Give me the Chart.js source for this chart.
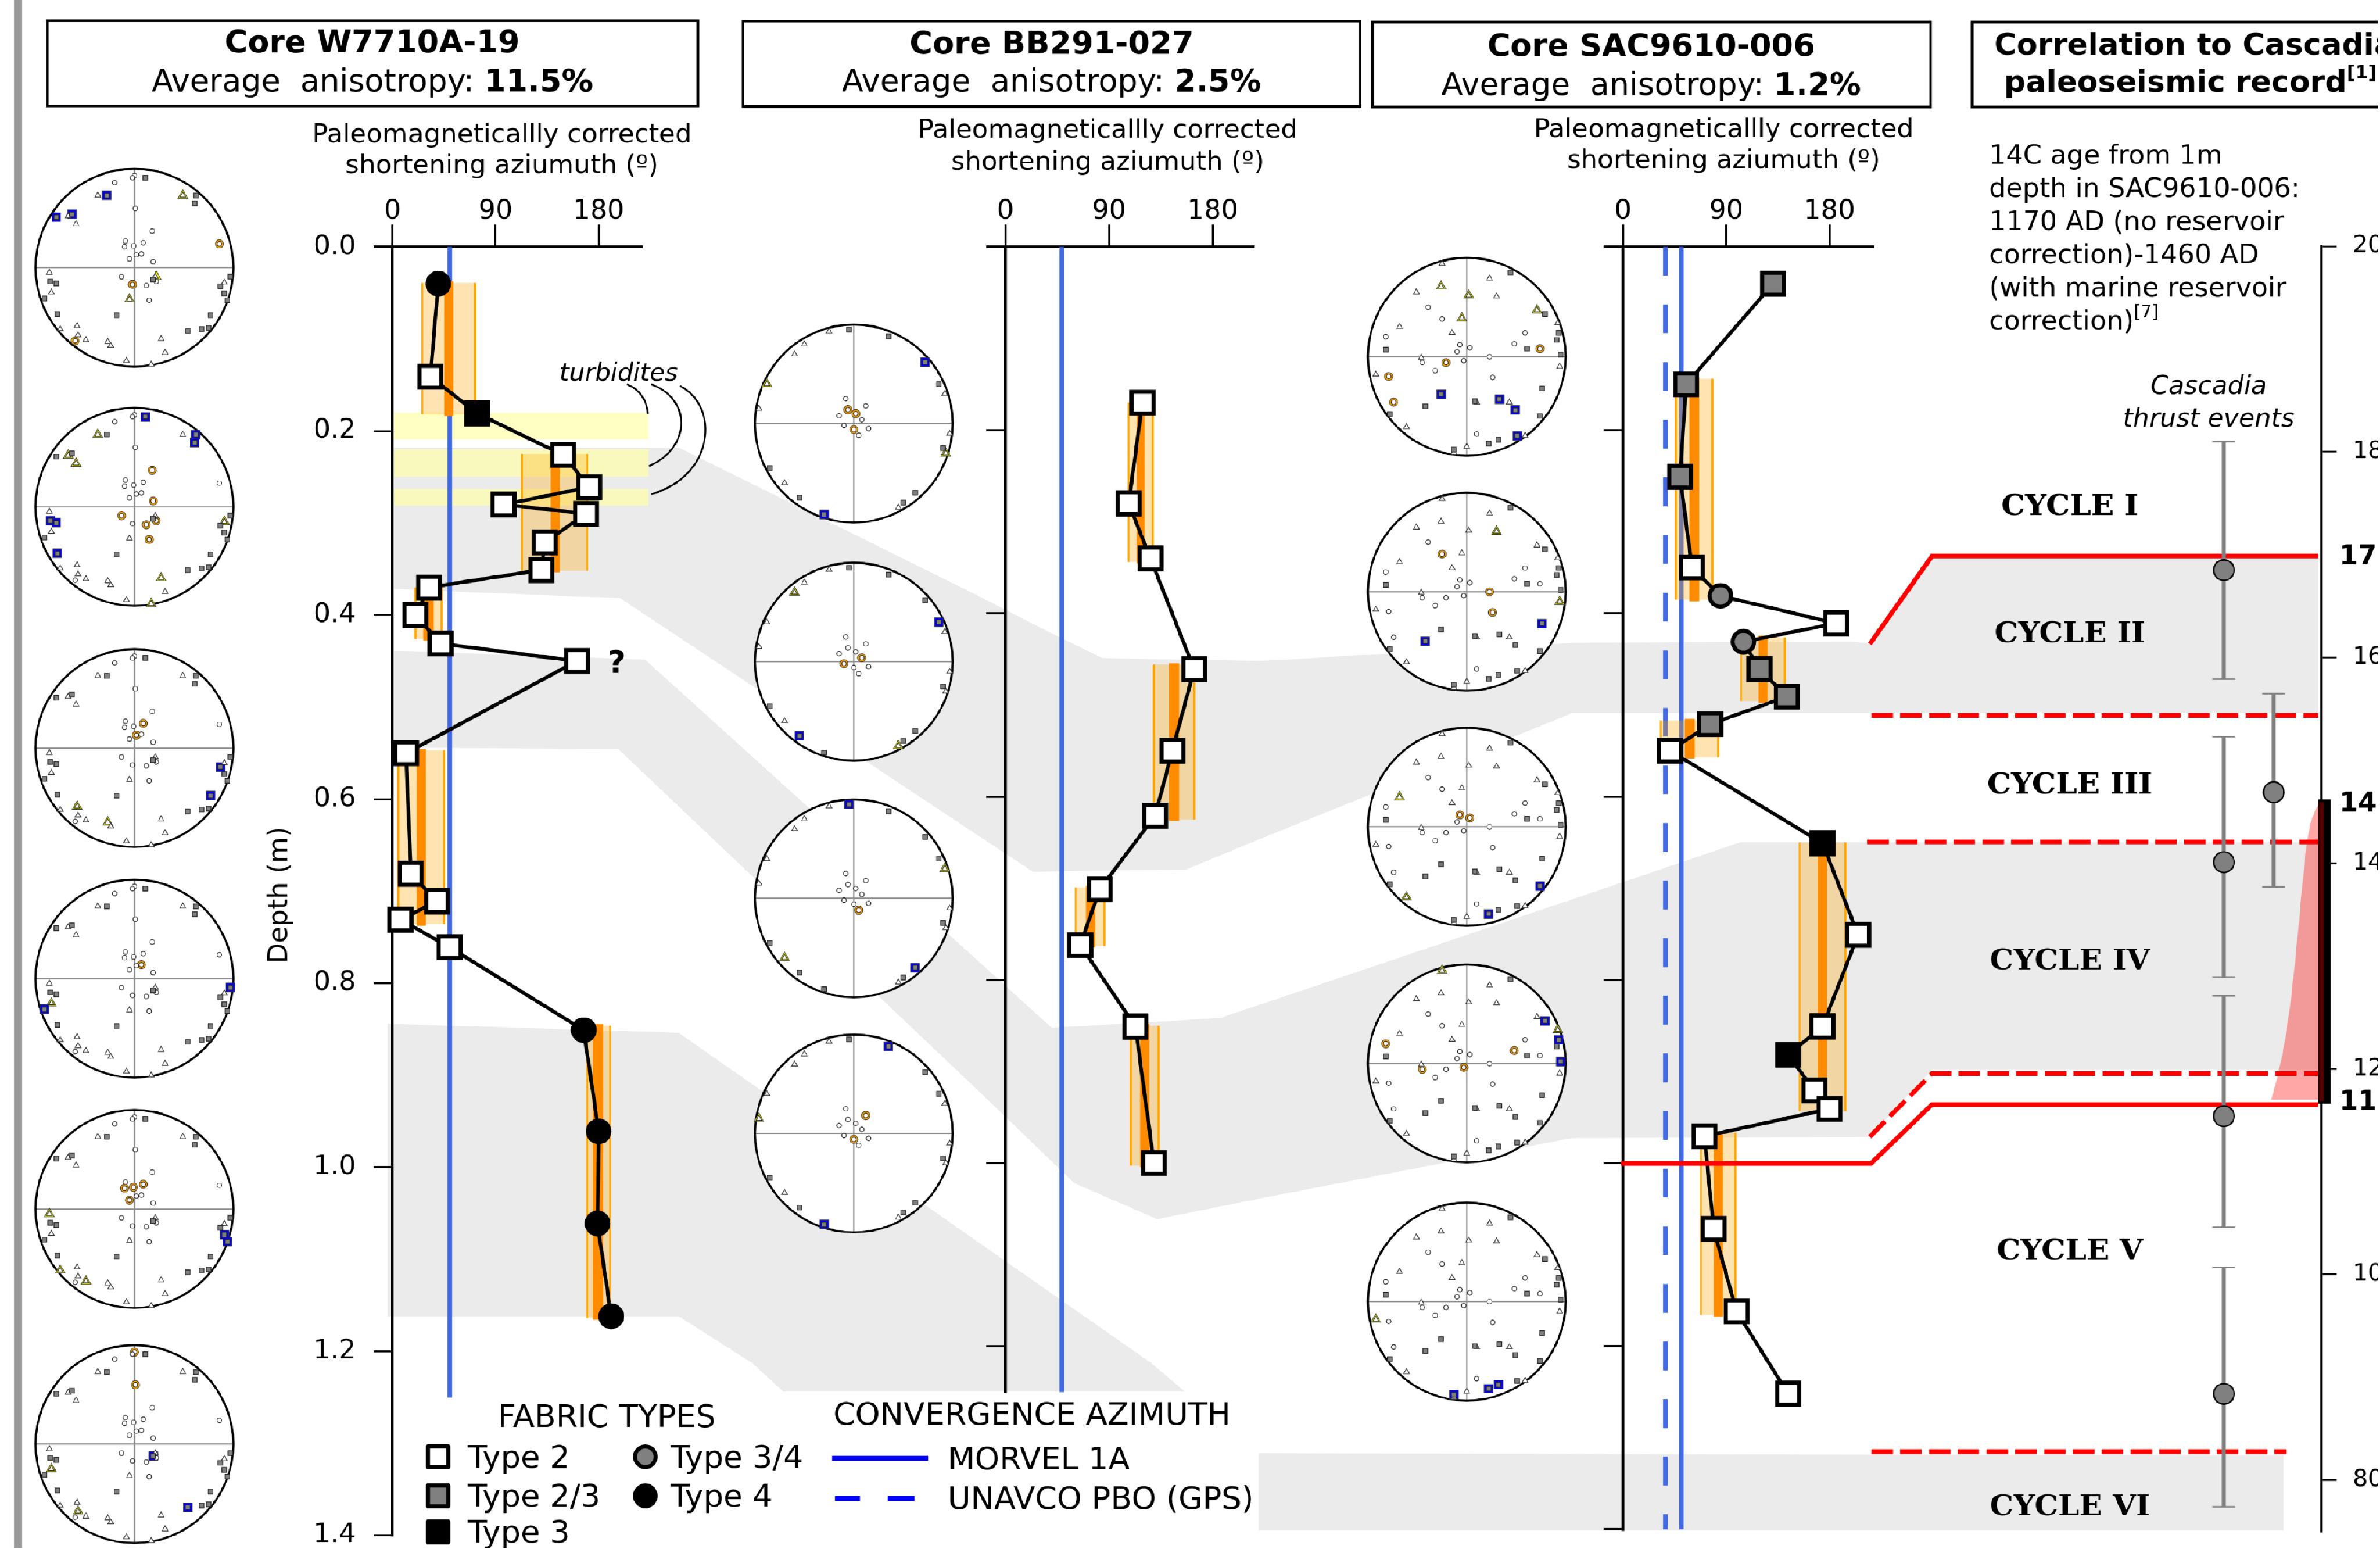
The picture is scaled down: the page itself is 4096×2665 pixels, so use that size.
<!DOCTYPE html>
<html>
<head>
<meta charset="utf-8">
<title>Shortening azimuths and Cascadia paleoseismic correlation</title>
<script src="https://cdn.jsdelivr.net/npm/chart.js@4.4.1/dist/chart.umd.min.js"></script>
<style>
  html, body { margin:0; padding:0; background:#fff; width:4096px; height:2665px; overflow:hidden; }
  #stage { position:absolute; left:0; top:0; width:4624px; height:3009px; background:#fff;
           transform:scale(0.885); transform-origin:0 0; overflow:hidden; }
  #stage canvas { position:absolute; }
</style>
</head>
<body>
<div id="stage"></div>
<script>
// ================= data =================
const azimuthTicks = [0, 90, 180];
const depthTicks = [0, 0.2, 0.4, 0.6, 0.8, 1.0, 1.2, 1.4];
const ageTicks = [800, 1000, 1200, 1400, 1600, 1800, 2000];

// Core W7710A-19 : depth (m), corrected shortening azimuth (deg), fabric type
const w77Depth   = [0.040, 0.141, 0.181, 0.226, 0.261, 0.280, 0.290, 0.321, 0.351, 0.370, 0.400, 0.431, 0.450, 0.550, 0.681, 0.711, 0.731, 0.761, 0.851, 0.961, 1.061, 1.162];
const w77Azimuth = [40, 33, 74, 149, 172, 97, 169, 133, 130, 32, 20, 42, 161, 12, 16, 39, 7, 50, 167, 180, 179, 191];
const w77Fabric  = ['4','2','3','2','2','2','2','2','2','2','2','2','2','2','2','2','2','2','4','4','4','4'];
// [top, bottom, range min, range max, mean min, mean max]
const w77Intervals = [
  [0.039, 0.182, 26, 72, 45, 53],
  [0.225, 0.352, 113, 170, 138, 146],
  [0.370, 0.426, 20, 43, 27, 36],
  [0.547, 0.736, 5, 45, 21, 29],
  [0.846, 1.164, 170, 190, 175, 184]
];
const w77Turbidites = [[0.180, 0.209], [0.220, 0.250], [0.263, 0.281]];
const w77Uncertain = 12;          // sample flagged with "?"
const w77Morvel = 50;

// Core BB291-027
const bbDepth   = [0.170, 0.280, 0.340, 0.461, 0.550, 0.621, 0.701, 0.762, 0.851, 1.000];
const bbAzimuth = [119, 107, 126, 164, 145, 130, 82, 65, 113, 129];
const bbFabric  = ['2','2','2','2','2','2','2','2','2','2'];
const bbIntervals = [
  [0.170, 0.344, 107, 128, 114, 121],
  [0.456, 0.625, 129, 164, 142, 151],
  [0.699, 0.763, 61, 86, 70, 78],
  [0.850, 1.003, 109, 133, 117, 125]
];
const bbMorvel = 49;

// Core SAC9610-006
const sacDepth   = [0.040, 0.150, 0.251, 0.350, 0.381, 0.411, 0.431, 0.461, 0.491, 0.521, 0.550, 0.651, 0.751, 0.851, 0.882, 0.921, 0.941, 0.971, 1.072, 1.162, 1.252];
const sacAzimuth = [131, 55, 50, 60, 85, 186, 105, 119, 143, 76, 41, 174, 205, 174, 144, 167, 180, 71, 79, 99, 144];
const sacFabric  = ['2/3','2/3','2/3','2','3/4','2','3/4','2/3','2/3','2/3','2','3','2','2','3','2','2','2','2','2','2'];
const sacIntervals = [
  [0.144, 0.385, 46, 78, 58, 66.5],
  [0.426, 0.496, 103, 141, 118, 126],
  [0.517, 0.557, 33, 83, 54, 62.5],
  [0.650, 0.944, 154, 194, 170, 178],
  [0.967, 1.166, 68, 98, 79, 87]
];
const sacMorvel = 51;
const sacUnavco = 37;

// Cascadia thrust events (years AD) and 14C age at 1 m in SAC9610-006
const thrustAge    = [1685, 1401, 1154, 884, 1469];
const thrustMin    = [1579, 1289, 1046, 774, 1377];
const thrustMax    = [1810, 1523, 1271, 1007, 1565];
const thrustColumn = [1, 1, 1, 1, 2];
const c14Range = [1170, 1460];
const c14DistAge     = [1460, 1449, 1429, 1389, 1334, 1273, 1226, 1186, 1170];
const c14DistDensity = [0.03, 0.16, 0.27, 0.36, 0.46, 0.59, 0.72, 0.90, 1.00];
const markedAges = [1700, 1460, 1170];
const cycleNames = ['CYCLE I', 'CYCLE II', 'CYCLE III', 'CYCLE IV', 'CYCLE V', 'CYCLE VI'];

// AMS principal axes on lower-hemisphere nets (unit-circle coordinates)
const w77K1 = [[0.11,0.91],[0.62,0.73],[0.61,0.65],[-0.85,-0.14],[-0.79,-0.16],[-0.91,-0.31],[-0.78,-0.47],[-0.18,-0.48],[0.97,-0.09],[0.87,-0.19],[0.91,-0.26],[0.94,-0.33],[0.77,-0.48],[0.54,-0.64],[0.68,-0.62],[0.75,-0.61],[0.19,-0.12],[-0.28,0.73],[-0.63,0.54],[-0.79,0.51]];
const w77K2 = [[-0.37,0.73],[-0.67,0.52],[-0.59,0.44],[-0.86,-0.05],[-0.84,-0.25],[-0.58,-0.59],[-0.75,-0.62],[-0.57,-0.68],[-0.49,-0.73],[-0.27,-0.75],[-0.24,-0.79],[-0.08,-0.94],[0.17,-0.98],[0.27,-0.72],[0.31,-0.86],[0.91,-0.15],[0.21,-0.09],[0.49,0.73],[-0.05,-0.32]];
const w77K3 = [[0.00,0.93],[-0.02,0.91],[-0.20,0.86],[0.01,0.60],[0.18,0.37],[-0.09,0.27],[-0.10,0.21],[-0.01,0.22],[0.09,0.25],[0.07,0.14],[0.02,0.13],[-0.05,0.09],[0.19,0.06],[-0.13,-0.09],[0.12,-0.18],[0.22,-0.14],[0.15,-0.33],[0.86,0.24],[-0.02,-0.17],[-0.60,-0.74]];
const w77Highlights = [
  {blue:[[-0.28,0.73],[-0.63,0.54],[-0.79,0.51]], yellow:[[0.49,0.73],[0.22,-0.09],[-0.05,-0.32]], orange:[[0.86,0.24],[-0.02,-0.17],[-0.60,-0.74]]},
  {blue:[[0.11,0.91],[0.62,0.73],[0.61,0.65],[-0.85,-0.14],[-0.79,-0.16],[-0.78,-0.47]], yellow:[[-0.37,0.73],[-0.67,0.52],[-0.59,0.44],[0.91,-0.15],[0.27,-0.72],[0.17,-0.98]], orange:[[0.18,0.37],[0.19,0.06],[-0.13,-0.09],[0.12,-0.18],[0.22,-0.14],[0.15,-0.33]]},
  {blue:[[0.77,-0.48],[0.87,-0.19]], yellow:[[-0.27,-0.75],[-0.58,-0.59]], orange:[[0.02,0.13],[0.09,0.25]]},
  {blue:[[-0.91,-0.31],[0.97,-0.09]], yellow:[[-0.84,-0.25]], orange:[[0.07,0.14]]},
  {blue:[[0.91,-0.26],[0.94,-0.33]], yellow:[[-0.86,-0.05],[-0.75,-0.62],[-0.49,-0.73]], orange:[[-0.10,0.21],[-0.01,0.22],[0.09,0.25],[-0.05,0.09]]},
  {blue:[[0.54,-0.64],[0.19,-0.12]], yellow:[[-0.84,-0.25],[-0.57,-0.68]], orange:[[0.00,0.93],[0.01,0.60]]}
];
const bbK1 = [[0.86,0.40],[0.72,0.62],[-0.30,-0.92],[0.62,-0.70],[-0.55,-0.75],[0.35,0.88],[0.90,-0.25],[-0.05,0.95],[0.50,-0.80],[-0.85,-0.45]];
const bbK2 = [[-0.88,0.40],[0.93,-0.30],[-0.50,0.80],[-0.96,0.15],[0.45,-0.85],[-0.70,-0.60],[0.92,0.30],[-0.25,0.93],[0.97,-0.10],[-0.60,0.70]];
const bbK3 = [[0.02,0.10],[-0.06,0.14],[0.08,0.04],[-0.10,-0.02],[0.05,-0.12],[0.12,0.18],[-0.08,0.25],[0.00,-0.06],[0.15,-0.05],[-0.15,0.08]];
const bbHighlights = [
  {blue:[[0.72,0.62],[-0.30,-0.92]], yellow:[[-0.88,0.40],[0.93,-0.30]], orange:[[-0.06,0.14],[0.02,0.10],[0.00,-0.06]]},
  {blue:[[0.86,0.40],[-0.55,-0.75]], yellow:[[-0.60,0.70],[0.45,-0.85]], orange:[[0.08,0.04],[-0.10,-0.02]]},
  {blue:[[-0.05,0.95],[0.62,-0.70]], yellow:[[-0.70,-0.60],[0.92,0.30]], orange:[[0.05,-0.12]]},
  {blue:[[0.35,0.88],[-0.30,-0.92]], yellow:[[-0.96,0.15]], orange:[[0.12,0.18],[0.00,-0.06]]}
];
const sacK1 = [[0.44,0.85],[0.79,0.43],[0.93,0.24],[0.91,0.17],[-0.82,0.07],[0.61,0.08],[0.95,0.02],[0.76,-0.32],[0.08,-0.45],[-0.42,-0.50],[-0.78,-0.58],[0.74,-0.60],[0.32,-0.84],[0.22,-0.88],[-0.13,-0.94],[-0.26,-0.38],[0.33,-0.43],[0.49,-0.54],[0.51,-0.80]];
const sacK2 = [[-0.25,0.94],[0.23,0.79],[-0.51,0.65],[0.30,0.61],[-0.68,0.30],[-0.15,0.24],[0.92,0.34],[-0.46,-0.01],[0.94,-0.10],[-0.92,-0.18],[0.10,-0.46],[0.43,-0.46],[-0.61,-0.71],[0.00,-0.91],[0.59,-0.80],[-0.13,-0.97],[-0.26,0.71],[0.02,0.62],[-0.05,0.39],[0.71,0.47]];
const sacK3 = [[-0.39,0.50],[-0.25,0.38],[-0.82,0.20],[-0.07,0.12],[0.03,0.09],[-0.10,0.05],[0.59,0.24],[0.48,0.13],[0.23,0.00],[-0.45,-0.06],[-0.03,-0.04],[-0.32,-0.14],[0.26,-0.21],[0.10,-0.78],[0.74,0.08],[-0.21,-0.06],[-0.79,-0.20],[-0.74,-0.46]];
const sacHighlights = [
  {blue:[[-0.26,-0.38],[0.33,-0.43],[0.49,-0.54],[0.51,-0.80]], yellow:[[-0.26,0.71],[0.02,0.62],[-0.05,0.39],[0.71,0.47]], orange:[[0.74,0.08],[-0.21,-0.06],[-0.79,-0.20],[-0.74,-0.46]]},
  {blue:[[-0.42,-0.50],[0.76,-0.32]], yellow:[[0.30,0.61],[0.94,-0.10]], orange:[[-0.25,0.38],[0.23,0.00],[0.26,-0.21]]},
  {blue:[[0.74,-0.60],[0.22,-0.88]], yellow:[[-0.68,0.30],[-0.61,-0.71]], orange:[[0.03,0.09],[-0.07,0.12]]},
  {blue:[[0.95,0.02],[0.93,0.24],[0.79,0.43]], yellow:[[-0.25,0.94],[0.92,0.34]], orange:[[-0.82,0.20],[-0.45,-0.06],[-0.03,-0.04],[0.48,0.13]]},
  {blue:[[-0.13,-0.94],[0.22,-0.88],[0.32,-0.84]], yellow:[[-0.92,-0.18]], orange:[]}
];

// ================= page set-up =================
const S = 0.885;
const stage = document.getElementById('stage');
const FONT = '"DejaVu Sans", Verdana, sans-serif';
Chart.defaults.font.family = FONT;
Chart.defaults.color = '#000';

function addCanvas(x, y, w, h, z, forChart) {
  const c = document.createElement('canvas');
  if (forChart) { c.width = w; c.height = h; }
  else { c.width = Math.round(w * S); c.height = Math.round(h * S); }
  c.style.left = x + 'px'; c.style.top = y + 'px';
  c.style.width = w + 'px'; c.style.height = h + 'px';
  c.style.zIndex = z;
  stage.appendChild(c);
  return c;
}
function plainCtx(x, y, w, h, z) {
  const c = addCanvas(x, y, w, h, z, false);
  const ctx = c.getContext('2d');
  ctx.scale(c.width / w, c.height / h);
  return ctx;
}
// Build a chart whose plotting area lands on a given page rectangle:
// the layout padding is corrected pass by pass until the axes sit in place.
function fittedChart(box, want, z, configFor) {
  let pad = {left:0, top:0, right:0, bottom:0};
  let cv, chart;
  for (let pass = 0; pass < 6; pass++) {
    cv = addCanvas(box[0], box[1], box[2], box[3], z, true);
    chart = new Chart(cv, configFor(pad));
    const a = chart.chartArea;
    const err = {
      left:   (want.left - box[0]) - a.left,
      top:    (want.top - box[1]) - a.top,
      right:  a.right - (want.right - box[0]),
      bottom: a.bottom - (want.bottom - box[1])
    };
    const worst = Math.max(Math.abs(err.left), Math.abs(err.top), Math.abs(err.right), Math.abs(err.bottom));
    if (worst < 0.3 || pass === 5) break;
    pad = { left:pad.left + err.left, top:pad.top + err.top, right:pad.right + err.right, bottom:pad.bottom + err.bottom };
    chart.destroy(); cv.remove();
  }
  return chart;
}
function txt(ctx, s, x, y, font, align) {
  ctx.font = font; ctx.textAlign = align || 'left'; ctx.textBaseline = 'alphabetic';
  ctx.fillStyle = '#000'; ctx.fillText(s, x, y);
}
// runs of differently styled text: [text, font, rise]
function runs(ctx, parts, x, y, align) {
  let total = 0;
  parts.forEach(p => { ctx.font = p[1]; total += ctx.measureText(p[0]).width; });
  let cx = align === 'center' ? x - total / 2 : x;
  ctx.textAlign = 'left'; ctx.textBaseline = 'alphabetic'; ctx.fillStyle = '#000';
  parts.forEach(p => { ctx.font = p[1]; ctx.fillText(p[0], cx, y - (p[2] || 0)); cx += ctx.measureText(p[0]).width; });
}

// ================= background layer =================
const bg = plainCtx(0, 0, 4624, 3009, 0);
bg.fillStyle = '#999';
bg.fillRect(27, 0, 16, 3009);

// correlation bands linking the cores to the onshore cycles
const BANDS = [
  [[766,870],[1320,870],[1900,1157],[2033,1225],[2143,1279],[2450,1285],[3058,1250],[3600,1247],[3636,1252],[3757,1081],[4508,1081],[4508,1386],[3058,1386],[2450,1631],[2307,1690],[2009,1695],[1900,1623],[1206,1163],[766,1145]],
  [[766,1265],[1254,1282],[1900,1866],[2045,1998],[2372,1979],[2450,1953],[3100,1734],[3385,1637],[4508,1637],[4508,2080],[3757,2080],[3636,2210],[3058,2212],[2450,2330],[2250,2370],[2089,2300],[1900,2118],[1202,1456],[766,1453]],
  [[754,1990],[1320,2008],[2239,2650],[2304,2705],[1523,2705],[1463,2650],[1320,2559],[754,2559]],
  [[2448,2825],[4441,2829],[4441,2975],[2448,2975]]
];
bg.fillStyle = '#ebebeb';
BANDS.forEach(poly => {
  bg.beginPath();
  poly.forEach((p, i) => i ? bg.lineTo(p[0], p[1]) : bg.moveTo(p[0], p[1]));
  bg.closePath(); bg.fill();
});

// header boxes
bg.lineWidth = 5; bg.strokeStyle = '#000';
[[92,40,1265,166],[1445,41,1200,166],[2669,43,1085,165],[3835,43,1015,165]].forEach(b => bg.strokeRect(b[0], b[1], b[2], b[3]));
const B61 = 'bold 61px ' + FONT, R61 = '61px ' + FONT;
[['Core W7710A-19','11.5%',724,102,177],['Core BB291-027','2.5%',2045,104,177],['Core SAC9610-006','1.2%',3211,108,184]].forEach(t => {
  txt(bg, t[0], t[2], t[3], B61, 'center');
  runs(bg, [['Average  anisotropy: ', R61], [t[1], B61]], t[2], t[4], 'center');
});
const B59 = 'bold 59px ' + FONT;
txt(bg, 'Correlation to Cascadia', 3878, 106, B59, 'left');
runs(bg, [['paleoseismic record', B59], ['[1]', 'bold 36px ' + FONT, 26]], 3897, 178, 'left');

// axis captions
[[976,277,337],[2154,268,330],[3352,267,327]].forEach(c => {
  txt(bg, 'Paleomagneticallly corrected', c[0], c[1], '51px ' + FONT, 'center');
  txt(bg, 'shortening aziumuth (º)', c[0], c[2], '51px ' + FONT, 'center');
});
bg.save(); bg.translate(540, 1740); bg.rotate(-Math.PI / 2);
txt(bg, 'Depth (m)', 0, 18, '52px ' + FONT, 'center'); bg.restore();

// radiocarbon note and event caption
['14C age from 1m', 'depth in SAC9610-006:', '1170 AD (no reservoir', 'correction)-1460 AD', '(with marine reservoir'].forEach((s, i) => {
  txt(bg, s, 3868, 319 + i * 64.4, '52px ' + FONT, 'left');
});
runs(bg, [['correction)', '52px ' + FONT], ['[7]', '34px ' + FONT, 24]], 3868, 641, 'left');
txt(bg, 'Cascadia', 4295, 766, 'italic 50px ' + FONT, 'center');
txt(bg, 'thrust events', 4295, 829, 'italic 50px ' + FONT, 'center');

// legend
const L61 = '61px ' + FONT;
txt(bg, 'FABRIC TYPES', 1180, 2774, L61, 'center');
txt(bg, 'CONVERGENCE AZIMUTH', 2007, 2770, L61, 'center');
function legendSquare(cx, cy, fill) {
  bg.fillStyle = fill; bg.fillRect(cx - 20, cy - 20, 40, 40);
  bg.lineWidth = 8; bg.strokeStyle = '#000'; bg.lineJoin = 'round'; bg.strokeRect(cx - 20, cy - 20, 40, 40);
}
function legendCircle(cx, cy, fill) {
  bg.beginPath(); bg.arc(cx, cy, 20, 0, Math.PI * 2); bg.fillStyle = fill; bg.fill();
  bg.lineWidth = 8; bg.strokeStyle = '#000'; bg.stroke();
}
legendSquare(852, 2832, '#fff'); legendSquare(852, 2908, '#808080'); legendSquare(852, 2978, '#000');
legendCircle(1255, 2832, '#808080'); legendCircle(1255, 2908, '#000');
txt(bg, 'Type 2', 910, 2853, L61); txt(bg, 'Type 2/3', 910, 2929, L61); txt(bg, 'Type 3', 910, 2999, L61);
txt(bg, 'Type 3/4', 1304, 2853, L61); txt(bg, 'Type 4', 1304, 2929, L61);
bg.strokeStyle = '#0000ff'; bg.lineWidth = 10; bg.lineCap = 'butt';
bg.beginPath(); bg.moveTo(1618, 2835); bg.lineTo(1805, 2835); bg.stroke();
bg.beginPath(); bg.moveTo(1624, 2913); bg.lineTo(1672, 2913); bg.moveTo(1726, 2913); bg.lineTo(1778, 2913); bg.stroke();
txt(bg, 'MORVEL 1A', 1843, 2857, L61); txt(bg, 'UNAVCO PBO (GPS)', 1843, 2933, L61);

// ================= depth panels =================
const FABRIC = {
  '2':   {shape:'rect',   r:30, fill:'#ffffff'},
  '2/3': {shape:'rect',   r:30, fill:'#808080'},
  '3':   {shape:'rect',   r:30, fill:'#000000'},
  '3/4': {shape:'circle', r:21, fill:'#808080'},
  '4':   {shape:'circle', r:21, fill:'#000000'}
};
function fab(list, ctx, key, dflt) {
  const f = FABRIC[list[ctx.dataIndex]];
  return f ? f[key] : dflt;
}

function buildPanel(cfg) {
  const datasets = cfg.conv.map(c => ({
    type:'scatter', showLine:true, data:[{x:c.az, y:0}, {x:c.az, y:c.to}],
    borderColor:'#4169e1', borderWidth:9, borderDash:c.dash || [], pointRadius:0, order:2, clip:false
  }));
  const dataIndex = datasets.length;
  datasets.push({
    type:'scatter', showLine:true, order:0, clip:false,
    data: cfg.depth.map((d, i) => ({x: cfg.azimuth[i], y: d})),
    borderColor:'#000', borderWidth:7,
    pointStyle: ctx => fab(cfg.fabric, ctx, 'shape', 'circle'),
    pointRadius: ctx => fab(cfg.fabric, ctx, 'r', 0),
    pointBackgroundColor: ctx => fab(cfg.fabric, ctx, 'fill', '#fff'),
    pointBorderColor:'#000', pointBorderWidth:8
  });
  const intervalPlugin = {
    id:'intervals',
    beforeDatasetDraw(chart, args) {
      if (args.index !== dataIndex) return;
      const {ctx, scales:{x, y}} = chart;
      ctx.save();
      cfg.intervals.forEach(iv => {
        const y0 = y.getPixelForValue(iv[0]), y1 = y.getPixelForValue(iv[1]);
        const xl = x.getPixelForValue(iv[2]), xr = x.getPixelForValue(iv[3]);
        const dl = x.getPixelForValue(iv[4]), dr = x.getPixelForValue(iv[5]);
        ctx.fillStyle = 'rgba(255,165,0,0.3)';
        ctx.fillRect(xl, y0, xr - xl, y1 - y0);
        ctx.fillStyle = '#ffa500';
        ctx.fillRect(xl - 2, y0, 4, y1 - y0);
        ctx.fillRect(xr - 2, y0, 4, y1 - y0);
        ctx.fillStyle = '#ff8c00';
        ctx.fillRect(dl, y0 - 3, dr - dl, y1 - y0 + 6);
      });
      ctx.restore();
    }
  };
  const plugins = [intervalPlugin];
  if (cfg.extra) plugins.push(cfg.extra);
  return fittedChart(cfg.box, cfg.area, 3, pad => ({
    type:'scatter',
    data:{ datasets },
    options:{
      responsive:false, animation:false, devicePixelRatio:S, events:[],
      layout:{ padding:pad },
      plugins:{ legend:{display:false}, tooltip:{enabled:false} },
      scales:{
        x:{ type:'linear', position:'top', min:0, max:cfg.xMax,
            afterBuildTicks: s => { s.ticks = azimuthTicks.map(v => ({value:v})); },
            ticks:{ font:{size:52}, color:'#000', padding:-7, maxRotation:0, autoSkip:false },
            grid:{ drawOnChartArea:false, tickLength:44, lineWidth:3.5, color:'#000' },
            border:{ color:'#000', width:5 },
            afterFit: s => { s.height = 200; } },
        y:{ type:'linear', position:'left', reverse:true, min:0, max:cfg.yMax,
            afterBuildTicks: s => { s.ticks = depthTicks.filter(v => v <= cfg.yMax + 1e-9).map(v => ({value:v})); },
            ticks:{ display:cfg.yLabels, font:{size:52}, color:'#000', padding:34, callback: v => v.toFixed(1) },
            grid:{ drawOnChartArea:false, tickLength:37, color:'#000',
                   lineWidth: c => (c.tick && c.tick.value === 0) ? 5 : 3.5 },
            border:{ color:'#000', width:5 },
            afterFit: s => { s.width = cfg.yWidth; } }
      }
    },
    plugins
  }));
}

// turbidite layers and the doubtful sample in core W7710A-19
const w77Extra = {
  id:'w77extra',
  beforeDatasetsDraw(chart) {
    const {ctx, chartArea:a, scales:{y}} = chart;
    ctx.save();
    ctx.fillStyle = 'rgba(255,255,170,0.7)';
    w77Turbidites.forEach(t => {
      const y0 = y.getPixelForValue(t[0]), y1 = y.getPixelForValue(t[1]);
      ctx.fillRect(a.left + 3, y0, a.right - a.left + 9, y1 - y0);
    });
    ctx.restore();
  },
  afterDatasetsDraw(chart) {
    const {ctx, scales:{x, y}} = chart;
    const px = x.getPixelForValue(w77Azimuth[w77Uncertain]), py = y.getPixelForValue(w77Depth[w77Uncertain]);
    ctx.save();
    ctx.font = 'bold 60px ' + FONT; ctx.textAlign = 'center'; ctx.fillStyle = '#000';
    ctx.fillText('?', px + 77, py + 22);
    ctx.restore();
  }
};

buildPanel({ box:[543, 250, 880, 2800], area:{left:763, top:480, right:1248, bottom:2973},
  yWidth:220, xMax:218, yMax:1.4, yLabels:true,
  depth:w77Depth, azimuth:w77Azimuth, fabric:w77Fabric, intervals:w77Intervals,
  conv:[{az:w77Morvel, to:1.25}], extra:w77Extra });
buildPanel({ box:[1895, 250, 620, 2520], area:{left:1955, top:480, right:2438, bottom:2706},
  yWidth:60, xMax:216, yMax:1.25, yLabels:false,
  depth:bbDepth, azimuth:bbAzimuth, fabric:bbFabric, intervals:bbIntervals,
  conv:[{az:bbMorvel, to:1.25}] });
buildPanel({ box:[3096, 250, 640, 2800], area:{left:3156, top:480, right:3642, bottom:2973},
  yWidth:60, xMax:218, yMax:1.4, yLabels:false,
  depth:sacDepth, azimuth:sacAzimuth, fabric:sacFabric, intervals:sacIntervals,
  conv:[{az:sacMorvel, to:1.4}, {az:sacUnavco, to:1.4, dash:[56,56]}] });

// ================= stereonets =================
const stereoFrame = {
  id:'stereoFrame',
  beforeDatasetsDraw(chart) {
    const {ctx, chartArea:a} = chart;
    const cx = (a.left + a.right) / 2, cy = (a.top + a.bottom) / 2, r = (a.right - a.left) / 2;
    ctx.save();
    ctx.beginPath(); ctx.arc(cx, cy, r, 0, Math.PI * 2); ctx.fillStyle = '#fff'; ctx.fill();
    ctx.strokeStyle = '#8a8a8a'; ctx.lineWidth = 2.2;
    ctx.beginPath(); ctx.moveTo(cx - r, cy); ctx.lineTo(cx + r, cy); ctx.moveTo(cx, cy - r); ctx.lineTo(cx, cy + r); ctx.stroke();
    ctx.beginPath(); ctx.arc(cx, cy, r, 0, Math.PI * 2); ctx.strokeStyle = '#000'; ctx.lineWidth = 4; ctx.stroke();
    ctx.restore();
  }
};
function pts(a) { return a.map(p => ({x:p[0], y:p[1]})); }
function netSet(data, style, r, fill, edge, bw) {
  return { data:pts(data), pointStyle:style, pointRadius:r, pointBackgroundColor:fill,
           pointBorderColor:edge, pointBorderWidth:bw, clip:false };
}
function stereonet(cx, cy, k1, k2, k3, hl) {
  const R = 192, pad = 14, size = 2 * (R + pad);
  const cv = addCanvas(cx - R - pad, cy - R - pad, size, size, 3, true);
  new Chart(cv, {
    type:'scatter',
    data:{ datasets:[
      netSet(k1, 'rect', 6.5, '#808080', '#222', 1.5),
      netSet(k2, 'triangle', 6.5, '#ffffff', '#333', 1.5),
      netSet(k3, 'circle', 4.5, '#ffffff', '#222', 1.5),
      netSet(hl.blue, 'rect', 12, '#0000ff', '#333', 1.2),
      netSet(hl.yellow, 'triangle', 11, '#ffff00', '#333', 1.2),
      netSet(hl.orange, 'circle', 8, '#ffa500', '#333', 1.2)
    ]},
    options:{ responsive:false, animation:false, devicePixelRatio:S, events:[],
      layout:{ padding:pad },
      plugins:{ legend:{display:false}, tooltip:{enabled:false} },
      scales:{ x:{type:'linear', min:-1, max:1, display:false}, y:{type:'linear', min:-1, max:1, display:false} } },
    plugins:[stereoFrame]
  });
}
[520, 985, 1454, 1902, 2350, 2807].forEach((cy, i) => stereonet(261, cy, w77K1, w77K2, w77K3, w77Highlights[i]));
[823, 1286, 1746, 2203].forEach((cy, i) => stereonet(1660, cy, bbK1, bbK2, bbK3, bbHighlights[i]));
[693, 1150, 1607, 2067, 2530].forEach((cy, i) => stereonet(2852, cy, sacK1, sacK2, sacK3, sacHighlights[i]));

// ================= overlay: correlation lines, cycles, labels =================
const ov = plainCtx(0, 0, 4624, 3009, 5);
const RED_SOLID = [
  [[3636,1252],[3757,1081],[4508,1081]],
  [[3152,2262],[3638,2262],[3757,2147],[4508,2147]]
];
const RED_DASHED = [
  [[3639,1391],[4508,1391]],
  [[3631,1637],[4508,1637]],
  [[3636,2210],[3757,2087],[4508,2087]],
  [[3639,2822],[4446,2822]]
];
function polyline(ctx, p) {
  ctx.beginPath(); p.forEach((q, i) => i ? ctx.lineTo(q[0], q[1]) : ctx.moveTo(q[0], q[1])); ctx.stroke();
}
ov.strokeStyle = '#ff0000'; ov.lineWidth = 9; ov.lineJoin = 'miter';
RED_SOLID.forEach(p => polyline(ov, p));
ov.setLineDash([42, 14]);
RED_DASHED.forEach(p => polyline(ov, p));
ov.setLineDash([]);

[1001, 1249, 1542, 1885, 2448, 2946].forEach((yb, i) => {
  ov.save(); ov.translate(4025, yb); ov.scale(1.08, 1);
  txt(ov, cycleNames[i], 0, 0, 'bold 54px "DejaVu Serif", serif', 'center');
  ov.restore();
});

txt(ov, 'turbidites', 1203, 740, 'italic 48px ' + FONT, 'center');
ov.strokeStyle = '#000'; ov.lineWidth = 3.5;
ov.beginPath(); ov.moveTo(1219, 747); ov.quadraticCurveTo(1256, 762, 1260, 804); ov.stroke();
ov.beginPath(); ov.moveTo(1266, 747); ov.bezierCurveTo(1345, 775, 1345, 870, 1262, 906); ov.stroke();
ov.beginPath(); ov.moveTo(1322, 750); ov.bezierCurveTo(1400, 790, 1390, 925, 1266, 961); ov.stroke();

// ================= Cascadia event chronology =================
const thrustPlugin = {
  id:'thrust',
  beforeDatasetsDraw(chart) {
    const {ctx, chartArea:a, scales:{x, y}} = chart;
    ctx.save();
    // calibrated 14C probability
    const ax = a.right;
    const P = c14DistAge.map((age, i) => [ax - 98 * c14DistDensity[i], y.getPixelForValue(age)]);
    ctx.beginPath();
    ctx.moveTo(ax, P[0][1]);
    ctx.lineTo(P[0][0], P[0][1]);
    for (let i = 1; i < P.length - 1; i++) {
      const mx = (P[i][0] + P[i + 1][0]) / 2, my = (P[i][1] + P[i + 1][1]) / 2;
      ctx.quadraticCurveTo(P[i][0], P[i][1], mx, my);
    }
    ctx.lineTo(P[P.length - 1][0], P[P.length - 1][1]);
    ctx.lineTo(ax, P[P.length - 1][1]);
    ctx.closePath();
    ctx.fillStyle = 'rgba(255,0,0,0.35)'; ctx.fill();
    // event age ranges
    thrustAge.forEach((age, i) => {
      const px = x.getPixelForValue(thrustColumn[i]);
      const y0 = y.getPixelForValue(thrustMax[i]), y1 = y.getPixelForValue(thrustMin[i]);
      ctx.strokeStyle = '#808080'; ctx.lineWidth = 8;
      ctx.beginPath(); ctx.moveTo(px, y0); ctx.lineTo(px, y1); ctx.stroke();
      ctx.lineWidth = 3;
      ctx.beginPath(); ctx.moveTo(px - 22, y0); ctx.lineTo(px + 22, y0); ctx.moveTo(px - 22, y1); ctx.lineTo(px + 22, y1); ctx.stroke();
    });
    ctx.restore();
  },
  afterDraw(chart) {
    const {ctx, chartArea:a, scales:{y}} = chart;
    ctx.save();
    const yt = y.getPixelForValue(c14Range[1]) - 4, yb = y.getPixelForValue(c14Range[0]) + 8;
    ctx.fillStyle = '#000'; ctx.fillRect(a.right - 6, yt, 24, yb - yt);
    ctx.fillStyle = '#550000'; ctx.fillRect(a.right - 4, yt + 5, 9, yb - yt - 10);
    ctx.font = 'bold 52px ' + FONT; ctx.textAlign = 'left'; ctx.fillStyle = '#000';
    markedAges.forEach(age => ctx.fillText(String(age), a.right + 35, y.getPixelForValue(age) + 19));
    ctx.restore();
  }
};
fittedChart([3800, 420, 1014, 2640], {left:3800, top:488, right:4514, bottom:2977}, 6, pad => ({
  type:'scatter',
  data:{ datasets:[{
    data: thrustAge.map((age, i) => ({x:thrustColumn[i], y:age})),
    pointStyle:'circle', pointRadius:20, pointBackgroundColor:'#808080',
    pointBorderColor:'#000', pointBorderWidth:3, clip:false
  }]},
  options:{ responsive:false, animation:false, devicePixelRatio:S, events:[],
    layout:{ padding:pad },
    plugins:{ legend:{display:false}, tooltip:{enabled:false} },
    scales:{
      x:{ type:'linear', min:-4.18, max:2.96, display:false },
      y:{ type:'linear', position:'right', min:750, max:2000,
          afterBuildTicks: s => { s.ticks = ageTicks.map(v => ({value:v})); },
          ticks:{ font:{size:46}, color:'#000', padding:31, callback: v => String(v) },
          grid:{ drawOnChartArea:false, tickLength:30, lineWidth:3, color:'#000' },
          border:{ color:'#000', width:4 },
          afterFit: s => { s.width = 300; } }
    }
  },
  plugins:[thrustPlugin]
}));
</script>
</body>
</html>
